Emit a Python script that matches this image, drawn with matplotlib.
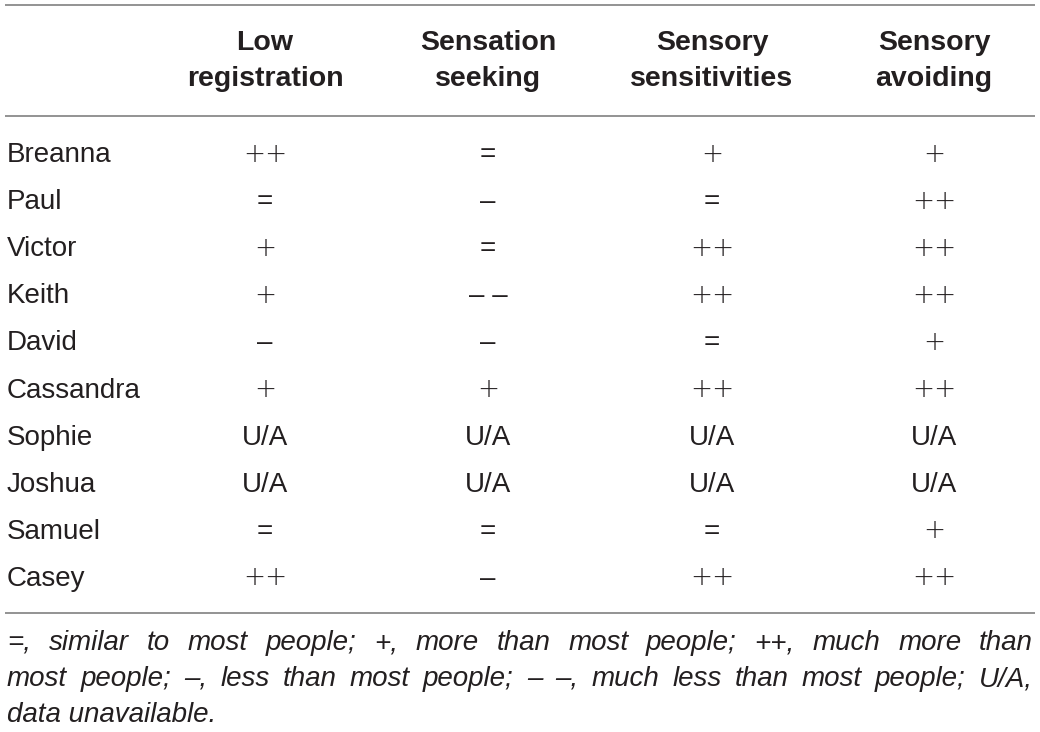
import matplotlib
matplotlib.use("Agg")
import matplotlib.pyplot as plt

# ---- data ----
participants = ["Breanna", "Paul", "Victor", "Keith", "David", "Cassandra",
                "Sophie", "Joshua", "Samuel", "Casey"]
columns = ["Low\nregistration", "Sensation\nseeking", "Sensory\nsensitivities", "Sensory\navoiding"]
low_registration = ["++", "=", "+", "+", "–", "+", "U/A", "U/A", "=", "++"]
sensation_seeking = ["=", "–", "=", "– –", "–", "+", "U/A", "U/A", "=", "–"]
sensory_sensitivities = ["+", "=", "++", "++", "=", "++", "U/A", "U/A", "=", "++"]
sensory_avoiding = ["+", "++", "++", "++", "+", "++", "U/A", "U/A", "+", "++"]
footnote_lines = [
    "=, similar to most people; +, more than most people; ++, much more than",
    "most people; –, less than most people; – –, much less than most people; U/A,",
    "data unavailable.",
]

W, H = 1040, 732
fig = plt.figure(figsize=(W / 100, H / 100), dpi=100)
ax = fig.add_axes([0, 0, 1, 1])
ax.set_xlim(0, W)
ax.set_ylim(H, 0)
ax.axis("off")

FONT = "Liberation Sans"
SYM_FONT = "DejaVu Sans"
TXT = "#231f20"
LINE = "#8a8a8a"

# rules
for y in (5, 116, 613):
    ax.plot([5, 1035], [y, y], color=LINE, lw=1.3, solid_capstyle="butt")

col_x = [265, 488, 712, 934]
for cx, lab in zip(col_x, columns):
    top, bottom = lab.split("\n")
    ax.text(cx, 43, top, ha="center", va="center", fontsize=20.5,
            fontweight="bold", family=FONT, color=TXT)
    ax.text(cx, 79, bottom, ha="center", va="center", fontsize=20.5,
            fontweight="bold", family=FONT, color=TXT)

values = [low_registration, sensation_seeking, sensory_sensitivities, sensory_avoiding]
row_y0, row_dy = 155, 47.1
for i, name in enumerate(participants):
    y = row_y0 + i * row_dy
    ax.text(7, y, name, ha="left", va="center", fontsize=20, family=FONT, color=TXT)
    for cx, col in zip(col_x, values):
        v = col[i]
        if "+" in v:
            ax.text(cx, y - 1, v, ha="center", va="center", fontsize=19,
                    family=SYM_FONT, fontweight="light", color=TXT)
        else:
            ax.text(cx, y, v, ha="center", va="center", fontsize=20,
                    family=FONT, color=TXT)

# justified footnote
fig.canvas.draw()
renderer = fig.canvas.get_renderer()
x_left, x_right = 7, 1033
foot_y = [643, 679, 715]
fs = 20
for li, (line, fy) in enumerate(zip(footnote_lines, foot_y)):
    words = line.split(" ")
    justify = li < len(footnote_lines) - 1
    if not justify:
        ax.text(x_left, fy, line, ha="left", va="center", fontsize=fs,
                style="italic", family=FONT, color=TXT)
        continue
    arts = [ax.text(0, fy, w, ha="left", va="center", fontsize=fs,
                    style="italic", family=FONT, color=TXT) for w in words]
    widths = [a.get_window_extent(renderer).width for a in arts]
    total = sum(widths)
    gap = (x_right - x_left - total) / (len(words) - 1)
    x = x_left
    for a, w in zip(arts, widths):
        a.set_x(x)
        x += w + gap

fig.savefig("out.png", dpi=100, facecolor="white")
